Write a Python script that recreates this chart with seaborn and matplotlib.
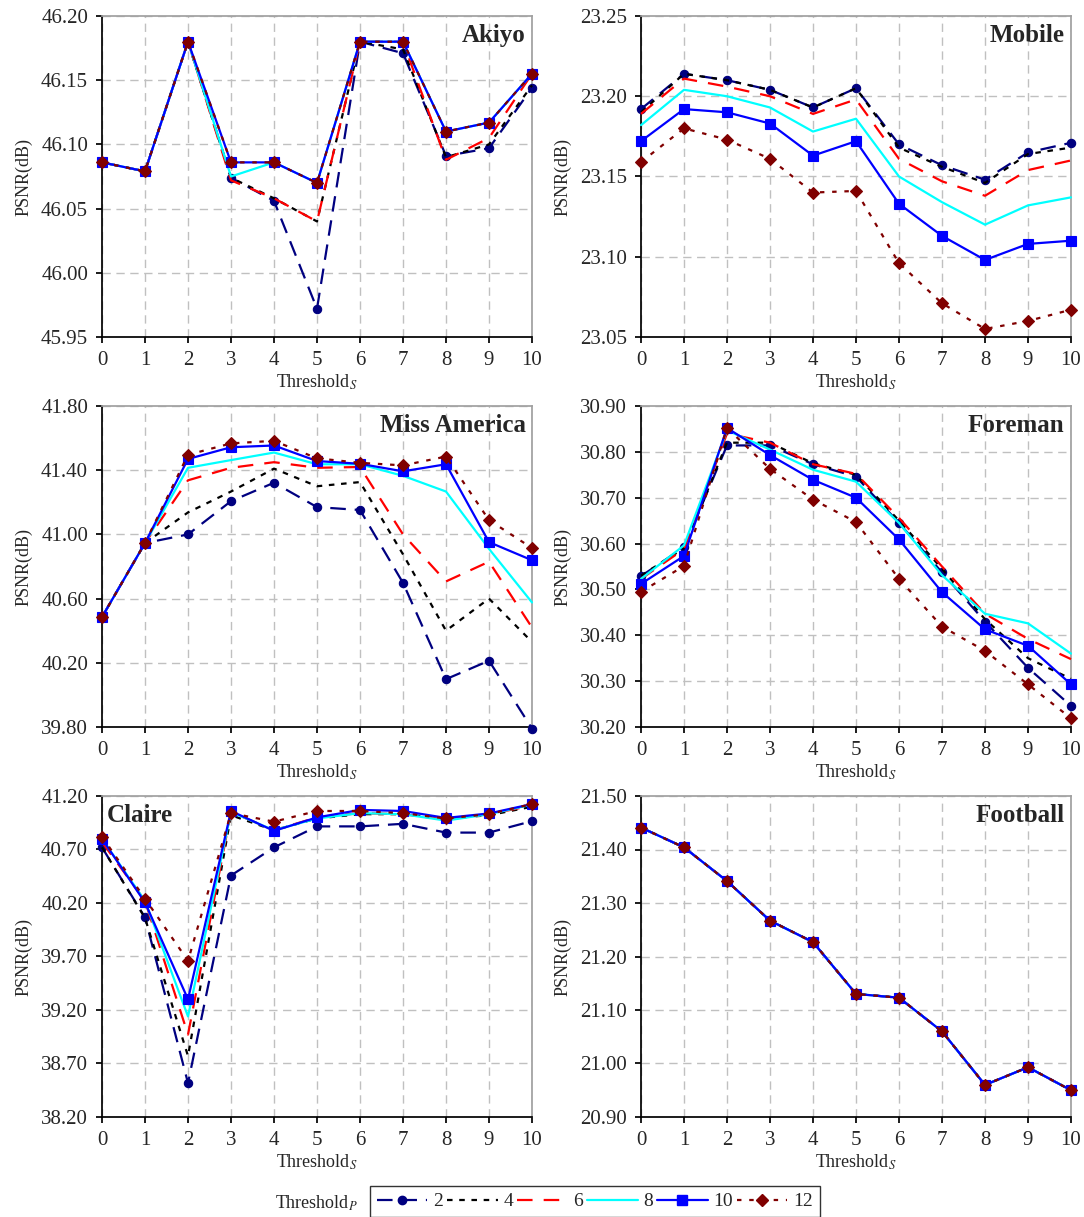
import matplotlib
matplotlib.use("Agg")
import matplotlib.pyplot as plt
from matplotlib.lines import Line2D
import pandas as pd
import seaborn as sns

# x values (Threshold_S) and series levels (Threshold_P)
thresh_s = list(range(11))
thresh_p = [2, 4, 6, 8, 10, 12]

# PSNR values per sequence, one row per Threshold_P level (2, 4, 6, 8, 10, 12)
akiyo = [
    [46.086, 46.079, 46.180, 46.074, 46.056, 45.972, 46.180, 46.171, 46.091, 46.097, 46.144],
    [46.086, 46.079, 46.180, 46.074, 46.058, 46.040, 46.180, 46.174, 46.090, 46.100, 46.146],
    [46.086, 46.079, 46.180, 46.072, 46.058, 46.040, 46.180, 46.180, 46.088, 46.105, 46.155],
    [46.086, 46.079, 46.180, 46.075, 46.086, 46.070, 46.180, 46.180, 46.110, 46.117, 46.155],
    [46.086, 46.079, 46.180, 46.086, 46.086, 46.070, 46.180, 46.180, 46.110, 46.117, 46.155],
    [46.086, 46.079, 46.180, 46.086, 46.086, 46.070, 46.180, 46.180, 46.110, 46.117, 46.155],
]
mobile = [
    [23.192, 23.214, 23.210, 23.204, 23.193, 23.205, 23.170, 23.157, 23.148, 23.165, 23.171],
    [23.190, 23.214, 23.210, 23.204, 23.193, 23.205, 23.168, 23.156, 23.146, 23.164, 23.168],
    [23.189, 23.211, 23.206, 23.200, 23.189, 23.198, 23.161, 23.147, 23.138, 23.154, 23.160],
    [23.182, 23.204, 23.200, 23.193, 23.178, 23.186, 23.150, 23.134, 23.120, 23.132, 23.137],
    [23.172, 23.192, 23.190, 23.183, 23.163, 23.172, 23.133, 23.113, 23.098, 23.108, 23.110],
    [23.159, 23.180, 23.173, 23.161, 23.140, 23.141, 23.096, 23.071, 23.055, 23.060, 23.067],
]
miss_america = [
    [40.485, 40.946, 41.000, 41.207, 41.322, 41.170, 41.152, 40.698, 40.098, 40.213, 39.790],
    [40.485, 40.946, 41.137, 41.267, 41.410, 41.300, 41.326, 40.876, 40.400, 40.600, 40.330],
    [40.485, 40.946, 41.337, 41.415, 41.450, 41.415, 41.420, 41.000, 40.707, 40.830, 40.420],
    [40.485, 40.946, 41.415, 41.463, 41.510, 41.437, 41.437, 41.365, 41.267, 40.910, 40.576],
    [40.485, 40.946, 41.470, 41.543, 41.554, 41.457, 41.440, 41.393, 41.437, 40.952, 40.839],
    [40.485, 40.946, 41.496, 41.567, 41.583, 41.474, 41.446, 41.430, 41.485, 41.089, 40.915],
]
foreman = [
    [30.529, 30.592, 30.814, 30.814, 30.773, 30.746, 30.645, 30.537, 30.430, 30.329, 30.246],
    [30.530, 30.590, 30.820, 30.820, 30.775, 30.750, 30.650, 30.545, 30.435, 30.350, 30.305],
    [30.523, 30.588, 30.840, 30.820, 30.773, 30.752, 30.656, 30.550, 30.447, 30.392, 30.348],
    [30.523, 30.596, 30.847, 30.805, 30.761, 30.735, 30.645, 30.531, 30.447, 30.426, 30.360],
    [30.512, 30.573, 30.852, 30.793, 30.739, 30.700, 30.609, 30.494, 30.413, 30.377, 30.293],
    [30.495, 30.551, 30.852, 30.763, 30.696, 30.647, 30.523, 30.419, 30.366, 30.293, 30.219],
]
claire = [
    [40.720, 40.065, 38.517, 40.457, 40.720, 40.916, 40.916, 40.940, 40.858, 40.858, 40.965],
    [40.720, 40.060, 38.770, 41.020, 40.880, 40.990, 41.030, 41.030, 40.990, 41.020, 41.100],
    [40.770, 40.220, 38.970, 41.050, 40.880, 41.000, 41.040, 41.030, 40.980, 41.030, 41.110],
    [40.800, 40.220, 39.140, 41.050, 40.880, 40.990, 41.040, 41.030, 40.970, 41.030, 41.120],
    [40.800, 40.205, 39.300, 41.060, 40.874, 41.000, 41.070, 41.060, 40.995, 41.037, 41.125],
    [40.820, 40.240, 39.660, 41.040, 40.960, 41.060, 41.060, 41.040, 40.990, 41.030, 41.125],
]
football = [
    [21.441, 21.404, 21.341, 21.267, 21.227, 21.130, 21.123, 21.060, 20.960, 20.993, 20.950],
    [21.441, 21.404, 21.341, 21.267, 21.227, 21.130, 21.123, 21.060, 20.960, 20.993, 20.950],
    [21.441, 21.404, 21.341, 21.267, 21.227, 21.130, 21.123, 21.060, 20.960, 20.993, 20.950],
    [21.441, 21.404, 21.341, 21.267, 21.227, 21.130, 21.123, 21.060, 20.960, 20.993, 20.950],
    [21.441, 21.404, 21.341, 21.267, 21.227, 21.130, 21.123, 21.060, 20.960, 20.993, 20.950],
    [21.441, 21.404, 21.341, 21.267, 21.227, 21.130, 21.123, 21.060, 20.960, 20.993, 20.950],
]

titles = ["Akiyo", "Mobile", "Miss America", "Foreman", "Claire", "Football"]
panels = [akiyo, mobile, miss_america, foreman, claire, football]
ylims = [(45.95, 46.20), (23.05, 23.25), (39.80, 41.80), (30.20, 30.90), (38.20, 41.20), (20.90, 21.50)]
ysteps = [0.05, 0.05, 0.40, 0.10, 0.50, 0.10]

# line styles per Threshold_P
colors = ["#000080", "#000000", "#ff0000", "#00ffff", "#0000ff", "#800000"]
styles = [(0, (7, 4)), (0, (2.5, 3)), (0, (7, 5)), "-", "-", (0, (2, 3.5))]
marks = ["o", "", "", "", "s", "D"]
msizes = [6, 0, 0, 0, 7, 6.5]

sns.set_theme(style="white")
plt.rcParams["font.family"] = ["Liberation Serif", "DejaVu Serif"]
plt.rcParams["mathtext.fontset"] = "stix"

fig = plt.figure(figsize=(10.84, 12.17), dpi=100)

W, H = 1084, 1217
lefts = [102, 641]
tops = [16, 406, 796]
aw, ah = 430, 321

for i, (data, title) in enumerate(zip(panels, titles)):
    row, col = divmod(i, 2)
    ax = fig.add_axes([lefts[col] / W, 1 - (tops[row] + ah) / H, aw / W, ah / H])
    df = pd.DataFrame(data, index=thresh_p, columns=thresh_s)
    for j, p in enumerate(thresh_p):
        sns.lineplot(x=thresh_s, y=df.loc[p].values, ax=ax, color=colors[j],
                     linestyle=styles[j], linewidth=1.6, marker=marks[j] or None,
                     markersize=msizes[j], markeredgecolor=colors[j],
                     markeredgewidth=0.8, clip_on=False, zorder=3)
    lo, hi = ylims[i]
    ax.set_xlim(0, 10)
    ax.set_ylim(lo, hi)
    n = int(round((hi - lo) / ysteps[i]))
    yt = [lo + k * ysteps[i] for k in range(n + 1)]
    ax.set_yticks(yt)
    ax.set_yticklabels([f"{v:.2f}" for v in yt])
    ax.set_xticks(thresh_s)
    ax.grid(True, color="#c0c0c0", linestyle=(0, (6, 4)), linewidth=1.0)
    ax.set_axisbelow(True)
    for s in ["top", "right"]:
        ax.spines[s].set_color("#a0a0a0")
    for s in ["left", "bottom"]:
        ax.spines[s].set_color("black")
    ax.tick_params(axis="both", labelsize=15, direction="out", length=4,
                   color="black", left=True, bottom=True, pad=6)
    ax.set_ylabel("PSNR(dB)", fontsize=13, labelpad=6)
    ax.set_xlabel("Threshold$_S$", fontsize=13, labelpad=2)
    if title == "Claire":
        ax.text(0.01, 0.975, title, transform=ax.transAxes, ha="left", va="top",
                fontsize=18, fontweight="bold")
    else:
        ax.text(0.985, 0.975, title, transform=ax.transAxes, ha="right", va="top",
                fontsize=18, fontweight="bold")

handles = [Line2D([], [], color=colors[j], linestyle=styles[j], linewidth=1.6,
                  marker=marks[j] or None, markersize=msizes[j],
                  markeredgecolor=colors[j]) for j in range(6)]
leg = fig.legend(handles, [str(p) for p in thresh_p], loc="upper left",
                 bbox_to_anchor=(370 / W, 1 - 1186 / H), ncol=6, fontsize=14,
                 frameon=True, fancybox=False, edgecolor="black",
                 handlelength=2.6, handletextpad=0.3, columnspacing=0.2,
                 borderpad=0.35, borderaxespad=0)
leg.get_frame().set_linewidth(1.0)
fig.text(275 / W, 1 - 1203 / H, "Threshold$_P$", fontsize=13, ha="left", va="center")

fig.savefig("out.png", dpi=100)
